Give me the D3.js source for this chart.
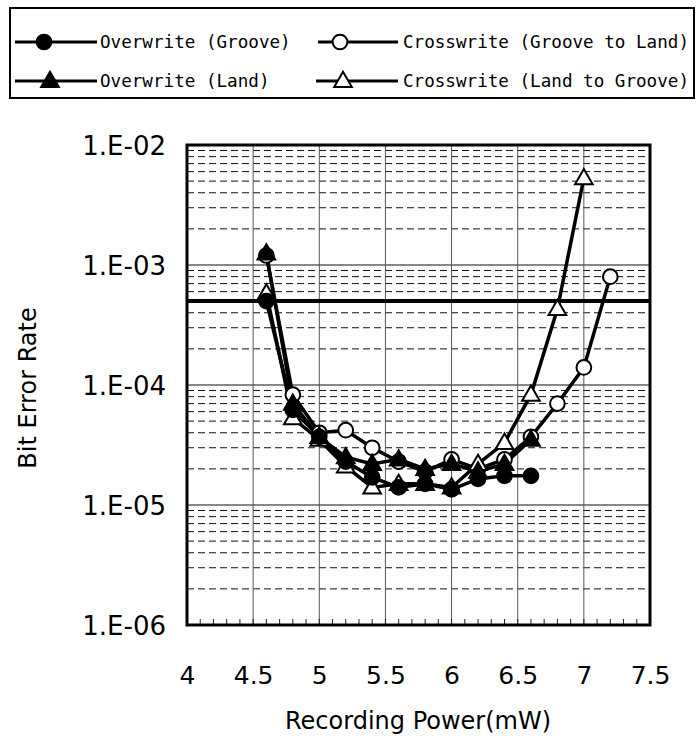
<!DOCTYPE html>
<html><head><meta charset="utf-8">
<script src="https://cdn.jsdelivr.net/npm/d3@7"></script>
<style>
html,body{margin:0;padding:0;background:#fff;}
svg{display:block;}
</style></head>
<body>
<svg id="chart" width="698" height="745"></svg>
<script>
// ---- data ----
const power = [4.6, 4.8, 5.0, 5.2, 5.4, 5.6, 5.8, 6.0, 6.2, 6.4, 6.6, 6.8, 7.0, 7.2];
const overwriteGroove = [5.0e-4, 6.2e-5, 3.7e-5, 2.3e-5, 1.7e-5, 1.4e-5, 1.5e-5, 1.35e-5, 1.65e-5, 1.75e-5, 1.75e-5];
const overwriteLand = [1.25e-3, 7.0e-5, 3.7e-5, 2.5e-5, 2.2e-5, 2.4e-5, 2.0e-5, 2.2e-5, 1.9e-5, 2.2e-5, 3.5e-5];
const crossGrooveToLand = [1.2e-3, 8.3e-5, 4.0e-5, 4.2e-5, 3.0e-5, 2.3e-5, 1.9e-5, 2.4e-5, 2.0e-5, 2.4e-5, 3.7e-5, 7.0e-5, 1.4e-4, 8.0e-4];
const crossLandToGroove = [5.8e-4, 5.3e-5, 3.5e-5, 2.1e-5, 1.4e-5, 1.5e-5, 1.5e-5, 1.4e-5, 2.2e-5, 3.3e-5, 8.3e-5, 4.3e-4, 5.3e-3];
const thresholdBER = 5e-4;
const xTicks = [4, 4.5, 5, 5.5, 6, 6.5, 7, 7.5];
const xTickLabels = ["4", "4.5", "5", "5.5", "6", "6.5", "7", "7.5"];
const yTicks = [1e-6, 1e-5, 1e-4, 1e-3, 1e-2];
const yTickLabels = ["1.E-06", "1.E-05", "1.E-04", "1.E-03", "1.E-02"];
const seriesNames = ["Overwrite (Groove)", "Overwrite (Land)", "Crosswrite (Groove to Land)", "Crosswrite (Land to Groove)"];

// ---- layout ----
const L = 187, R = 650, T = 145, B = 625;
const svg = d3.select("#chart");
const x = d3.scaleLinear().domain([4, 7.5]).range([L, R]);
const y = d3.scaleLog().domain([1e-6, 1e-2]).range([B, T]);
const numFont = "'DejaVu Sans', Verdana, sans-serif";
const legFont = "'DejaVu Sans Mono', 'Liberation Mono', monospace";

// minor horizontal gridlines (dashed)
const minorY = [];
for (let e = -6; e < -2; e++) for (let m = 2; m <= 9; m++) minorY.push(m * Math.pow(10, e));
svg.append("g").selectAll("line").data(minorY).join("line")
  .attr("x1", L).attr("x2", R).attr("y1", d => y(d)).attr("y2", d => y(d))
  .attr("stroke", "#111").attr("stroke-width", 1).attr("stroke-dasharray", "7,4");
// major horizontal gridlines
svg.append("g").selectAll("line").data(yTicks).join("line")
  .attr("x1", L).attr("x2", R).attr("y1", d => y(d)).attr("y2", d => y(d))
  .attr("stroke", "#111").attr("stroke-width", 1);
// vertical gridlines
svg.append("g").selectAll("line").data(xTicks).join("line")
  .attr("x1", d => x(d)).attr("x2", d => x(d)).attr("y1", T).attr("y2", B)
  .attr("stroke", "#555").attr("stroke-width", 1);
// minor x ticks (inward)
const minorX = d3.range(41, 75).map(d => d / 10);
svg.append("g").selectAll("line").data(minorX).join("line")
  .attr("x1", d => x(d)).attr("x2", d => x(d)).attr("y1", B).attr("y2", B - 6)
  .attr("stroke", "#222").attr("stroke-width", 1);

// axes labels via d3 axes
const xAxis = d3.axisBottom(x).tickValues(xTicks).tickSize(0).tickPadding(0)
  .tickFormat((d, i) => xTickLabels[i]);
const gx = svg.append("g").attr("transform", `translate(0,${B})`).call(xAxis);
gx.select(".domain").remove();
gx.selectAll("text").attr("y", 59).attr("dy", 0).attr("fill", "#000")
  .style("font-family", numFont).style("font-size", "25px");

const yAxis = d3.axisLeft(y).tickValues(yTicks).tickSize(0)
  .tickFormat((d, i) => yTickLabels[i]);
const gy = svg.append("g").attr("transform", `translate(${L},0)`).call(yAxis);
gy.select(".domain").remove();
gy.selectAll("text").attr("x", -21).attr("dy", "0.38em").attr("fill", "#000")
  .style("font-family", numFont).style("font-size", "26px");

// axis titles
svg.append("text").attr("x", 418).attr("y", 729).attr("text-anchor", "middle")
  .style("font-family", numFont).style("font-size", "24px").text("Recording Power(mW)");
svg.append("text").attr("transform", "translate(36,388) rotate(-90)").attr("text-anchor", "middle")
  .style("font-family", numFont).style("font-size", "24px").text("Bit Error Rate");

// threshold line
svg.append("line").attr("x1", L).attr("x2", R).attr("y1", y(thresholdBER)).attr("y2", y(thresholdBER))
  .attr("stroke", "#000").attr("stroke-width", 4);

// series (drawing order: open markers first)
const owG = {name: seriesNames[0], vals: overwriteGroove, shape: "circle", fill: "#000"};
const owL = {name: seriesNames[1], vals: overwriteLand, shape: "triangle", fill: "#000"};
const cwGL = {name: seriesNames[2], vals: crossGrooveToLand, shape: "circle", fill: "#fff"};
const cwLG = {name: seriesNames[3], vals: crossLandToGroove, shape: "triangle", fill: "#fff"};
const series = [cwGL, cwLG, owG, owL];
const line = d3.line().x(d => x(d[0])).y(d => y(d[1]));
const symCircle = d3.symbol().type(d3.symbolCircle).size(170);
const symTri = d3.symbol().type(d3.symbolTriangle).size(135);

series.forEach(s => {
  const pts = s.vals.map((v, i) => [power[i], v]);
  svg.append("path").datum(pts).attr("d", line).attr("fill", "none")
    .attr("stroke", "#000").attr("stroke-width", 3.5);
});
series.forEach(s => {
  const pts = s.vals.map((v, i) => [power[i], v]);
  svg.append("g").selectAll("path").data(pts).join("path")
    .attr("transform", d => `translate(${x(d[0])},${y(d[1]) + (s.shape === "triangle" ? 1 : 0)})`)
    .attr("d", s.shape === "circle" ? symCircle() : symTri())
    .attr("fill", s.fill).attr("stroke", "#000").attr("stroke-width", 2);
});

// plot border
svg.append("rect").attr("x", L).attr("y", T).attr("width", R - L).attr("height", B - T)
  .attr("fill", "none").attr("stroke", "#000").attr("stroke-width", 3);

// legend
const leg = svg.append("g");
leg.append("rect").attr("x", 10).attr("y", 8).attr("width", 684).attr("height", 90)
  .attr("fill", "#fff").attr("stroke", "#000").attr("stroke-width", 2);
const legItems = [
  {ser: owG, x1: 15, x2: 97, mx: 44, tx: 100, ty: 42},
  {ser: owL, x1: 15, x2: 97, mx: 50, tx: 100, ty: 81},
  {ser: cwGL, x1: 318, x2: 398, mx: 340, tx: 403, ty: 42},
  {ser: cwLG, x1: 316, x2: 398, mx: 343, tx: 403, ty: 81}
];
legItems.forEach(it => {
  leg.append("line").attr("x1", it.x1).attr("x2", it.x2).attr("y1", it.ty).attr("y2", it.ty)
    .attr("stroke", "#000").attr("stroke-width", 3);
  leg.append("path").attr("transform", `translate(${it.mx},${it.ty + (it.ser.shape === "triangle" ? 1 : 0)})`)
    .attr("d", it.ser.shape === "circle" ? symCircle() : symTri())
    .attr("fill", it.ser.fill).attr("stroke", "#000").attr("stroke-width", 2);
  leg.append("text").attr("x", it.tx).attr("y", it.ty).attr("dy", "0.36em")
    .style("font-family", legFont).style("font-size", "17.6px").text(it.ser.name);
});
</script>
</body></html>
